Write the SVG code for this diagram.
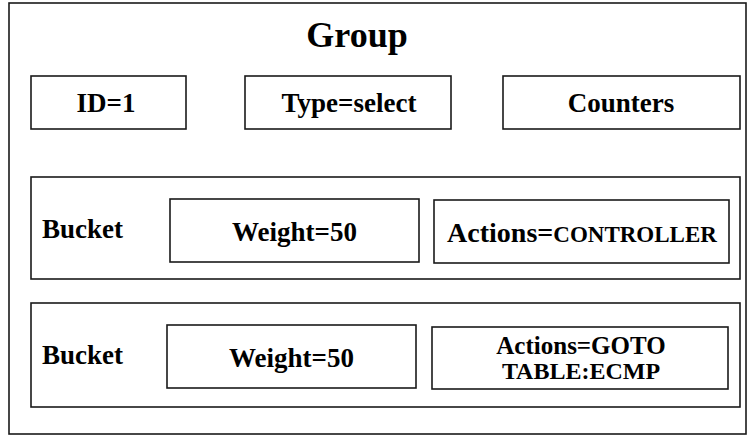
<svg xmlns="http://www.w3.org/2000/svg" width="753" height="437" viewBox="0 0 753 437">
  <style>
    .box { fill: #ffffff; stroke: #1a1a1a; stroke-width: 1.6; }
    .frame { fill: #ffffff; stroke: #1a1a1a; stroke-width: 1.6; }
    .lbl { font-family: "Liberation Serif", "Times New Roman", serif; font-weight: bold; fill: #000000; font-size: 27px; }
    .mid { text-anchor: middle; }
  </style>
  <rect width="753" height="437" fill="#ffffff"/>

  <g id="group">
    <rect class="frame" x="9" y="3" width="737" height="431"/>
    <text class="lbl mid" x="357" y="47" style="font-size:36px">Group</text>
  </g>

  <g id="id-field">
    <rect class="box" x="31" y="76" width="155" height="53"/>
    <text class="lbl mid" x="106" y="112">ID=1</text>
  </g>

  <g id="type-field">
    <rect class="box" x="245" y="76" width="206" height="53"/>
    <text class="lbl mid" x="349" y="112">Type=select</text>
  </g>

  <g id="counters-field">
    <rect class="box" x="503" y="76" width="237" height="53"/>
    <text class="lbl mid" x="621" y="112">Counters</text>
  </g>

  <g id="bucket-1">
    <rect class="box" x="31" y="177" width="709" height="102"/>
    <text class="lbl" x="42" y="238">Bucket</text>
  </g>

  <g id="bucket-1-weight">
    <rect class="box" x="170" y="199" width="249" height="63"/>
    <text class="lbl mid" x="294.5" y="241">Weight=50</text>
  </g>

  <g id="bucket-1-actions">
    <rect class="box" x="434" y="200" width="295" height="63"/>
    <text class="lbl mid" x="582" y="242"><tspan style="font-size:28px">Actions=</tspan><tspan style="font-size:23px">CONTROLLER</tspan></text>
  </g>

  <g id="bucket-2">
    <rect class="box" x="31" y="303" width="709" height="104"/>
    <text class="lbl" x="42" y="364">Bucket</text>
  </g>

  <g id="bucket-2-weight">
    <rect class="box" x="167" y="325" width="249" height="63"/>
    <text class="lbl mid" x="291.5" y="367">Weight=50</text>
  </g>

  <g id="bucket-2-actions">
    <rect class="box" x="432" y="327" width="296" height="62"/>
    <text class="lbl mid" x="581" y="354" style="font-size:25px">Actions=GOTO</text>
    <text class="lbl mid" x="581" y="379" style="font-size:24px">TABLE:ECMP</text>
  </g>

  <g id="connectors"></g>
</svg>
